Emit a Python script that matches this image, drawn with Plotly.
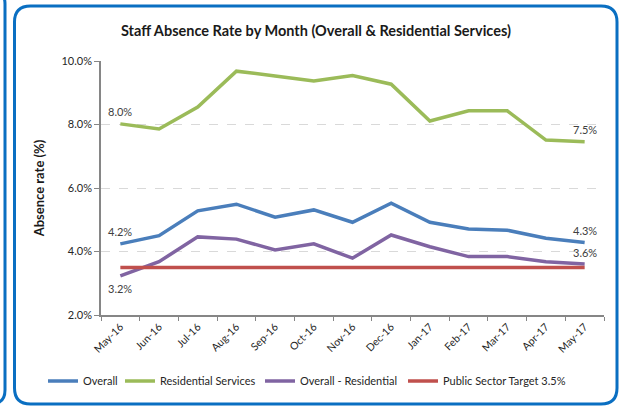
import plotly.graph_objects as go

months = ['May-16', 'Jun-16', 'Jul-16', 'Aug-16', 'Sep-16', 'Oct-16', 'Nov-16',
          'Dec-16', 'Jan-17', 'Feb-17', 'Mar-17', 'Apr-17', 'May-17']
overall = [4.24, 4.50, 5.28, 5.49, 5.08, 5.31, 4.92, 5.52, 4.92, 4.71, 4.67, 4.42, 4.28]
residential = [8.02, 7.86, 8.55, 9.68, 9.53, 9.37, 9.54, 9.27, 8.11, 8.43, 8.43, 7.51, 7.46]
overall_minus_res = [3.23, 3.68, 4.46, 4.39, 4.05, 4.24, 3.79, 4.52, 4.15, 3.84, 3.84, 3.68, 3.61]
target = [3.5] * 13

W, H = 622, 408
L, R, T, B = 101, 604, 61, 315  # plot area in pixels


def px(x):
    return (x - L) / (R - L)


def py(y):
    return (B - y) / (B - T)


def rounded(x0, y0, x1, y1, r):
    # rounded rectangle in paper coords, from pixel values
    pts = [
        f"M {px(x0 + r)},{py(y0)}",
        f"L {px(x1 - r)},{py(y0)}",
        f"Q {px(x1)},{py(y0)} {px(x1)},{py(y0 + r)}",
        f"L {px(x1)},{py(y1 - r)}",
        f"Q {px(x1)},{py(y1)} {px(x1 - r)},{py(y1)}",
        f"L {px(x0 + r)},{py(y1)}",
        f"Q {px(x0)},{py(y1)} {px(x0)},{py(y1 - r)}",
        f"L {px(x0)},{py(y0 + r)}",
        f"Q {px(x0)},{py(y0)} {px(x0 + r)},{py(y0)}",
        "Z",
    ]
    return " ".join(pts)


fig = go.Figure()

# one legend per series so the row stays on one line like the original
series = [
    ('Overall', overall, '#4A7EBB', 'legend', 43),
    ('Residential Services', residential, '#9BBB59', 'legend2', 120),
    ('Overall - Residential', overall_minus_res, '#8064A2', 'legend3', 260),
    ('Public Sector Target 3.5%', target, '#C0504D', 'legend4', 403),
]
for name, vals, col, leg, _ in series:
    fig.add_trace(go.Scatter(
        x=months, y=[v / 100 for v in vals], mode='lines', name=name,
        line=dict(color=col, width=3.5), legend=leg
    ))

# data labels (first and last points)
labels = [
    (months[0], residential[0], 12),
    (months[0], overall[0], 12),
    (months[0], overall_minus_res[0], -13),
    (months[-1], residential[-1], 12),
    (months[-1], overall[-1], 12),
    (months[-1], overall_minus_res[-1], 11),
]
for m, v, shift in labels:
    fig.add_annotation(x=m, y=v / 100, text=f"{v:.1f}%", showarrow=False,
                       yshift=shift, font=dict(size=11, color='#404040'))

# blue frames
fig.add_shape(type='path', xref='paper', yref='paper',
              path=rounded(14.5, 6, 617, 404, 16),
              line=dict(color='#0A6FC2', width=3), layer='below')
fig.add_shape(type='path', xref='paper', yref='paper',
              path=rounded(-40, -10, 5, 404, 14),
              line=dict(color='#0A6FC2', width=3), layer='below')

fig.update_layout(
    width=W, height=H,
    margin=dict(l=L, r=W - R, t=T, b=H - B, autoexpand=False),
    paper_bgcolor='white', plot_bgcolor='white',
    font=dict(family='Lato, Open Sans, sans-serif', color='#262626'),
    title=dict(text='<b>Staff Absence Rate by Month (Overall & Residential Services)</b>',
               x=0.508, xanchor='center', y=1 - 31 / H, yanchor='middle',
               font=dict(size=14.5, color='#1a1a1a')),
    showlegend=True,
)
for name, vals, col, leg, lx in series:
    fig.update_layout({leg: dict(
        orientation='h', xref='container', yref='container',
        x=lx / W, xanchor='left', y=1 - 381 / H, yanchor='middle',
        font=dict(size=11, color='#262626'), itemwidth=30,
        bgcolor='rgba(0,0,0,0)', borderwidth=0)})

fig.update_xaxes(
    range=[-0.5, 12.5], tickangle=-45, tickson='boundaries',
    ticks='outside', ticklen=4, tickcolor='#868686',
    showline=True, linecolor='#868686', linewidth=1.5,
    showgrid=False, tickfont=dict(size=10.5, color='#262626'),
)
fig.update_yaxes(
    range=[0.02, 0.10], dtick=0.02, tickformat='.1%',
    ticks='outside', ticklen=5, tickcolor='#868686',
    showline=True, linecolor='#868686', linewidth=1.5,
    showgrid=True, gridcolor='#D9D9D9', griddash='dash', gridwidth=1,
    zeroline=False, tickfont=dict(size=11, color='#262626'),
    title=dict(text='<b>Absence rate (%)</b>', font=dict(size=13, color='#1a1a1a'), standoff=14),
)

# the page body has a default margin; drop it so the figure sits at 0,0
fig.write_html("out.html", config={'displayModeBar': False},
               post_script="document.body.style.margin='0';")
